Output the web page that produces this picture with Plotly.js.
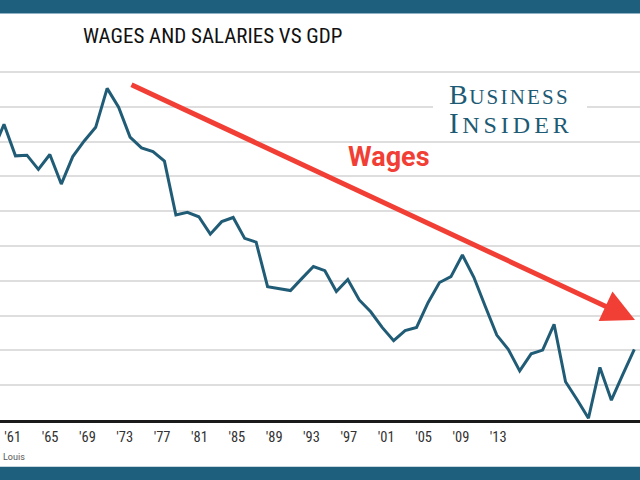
<!DOCTYPE html>
<html><head><meta charset="utf-8">
<script src="https://cdn.plot.ly/plotly-3.0.1.min.js"></script>
<style>html,body{margin:0;padding:0;background:#fff;} #chart{width:640px;height:480px;}</style>
</head><body><div id="chart"></div>
<script>
// Wages and salaries as share of GDP (%), annual
const years = [1959,1960,1961,1962,1963,1964,1965,1966,1967,1968,
  1969,1970,1971,1972,1973,1974,1975,1976,1977,1978,
  1979,1980,1981,1982,1983,1984,1985,1986,1987,1988,
  1989,1990,1991,1992,1993,1994,1995,1996,1997,1998,
  1999,2000,2001,2002,2003,2004,2005,2006,2007,2008,
  2009,2010,2011,2012,2013,2014,2015];
const wageShare = [49.70,50.50,49.59,49.61,49.20,49.63,48.78,49.57,50.02,50.41,
  51.53,50.99,50.13,49.82,49.71,49.44,47.89,47.97,47.84,47.34,
  47.70,47.82,47.22,47.11,45.83,45.78,45.72,46.07,46.41,46.29,
  45.69,46.04,45.45,45.11,44.66,44.28,44.57,44.66,45.37,45.95,
  46.12,46.74,46.10,45.26,44.44,44.03,43.41,43.90,44.01,44.75,
  43.10,42.59,42.05,43.51,42.57,43.31,44.03];
const tickYears = [1961,1965,1969,1973,1977,1981,1985,1989,1993,1997,2001,2005,2009,2013];
const tickLabels = ["'61","'65","'69","'73","'77","'81","'85","'89","'93","'97","'01","'05","'09","'13"];

const NARROW = "'Liberation Sans Narrow', 'Roboto Condensed', 'DejaVu Sans Condensed', Roboto, sans-serif";
const BLUE = '#1e5f7e';
const LINE = '#215c77';
const RED = '#f23f36';
const LOGO = '#1d5a74';

const traces = [
  {x: years, y: wageShare, type: 'scatter', mode: 'lines',
   line: {color: LINE, width: 3}, hoverinfo: 'skip', showlegend: false},
  {x: tickYears, y: tickYears.map(() => null), xaxis: 'x2', yaxis: 'y', type: 'scatter',
   mode: 'markers', marker: {opacity: 0}, hoverinfo: 'skip', showlegend: false}
];

const layout = {
  width: 640, height: 480,
  margin: {l: 0, r: 0, t: 60, b: 60},
  paper_bgcolor: '#ffffff', plot_bgcolor: '#ffffff',
  showlegend: false,
  title: {text: 'WAGES AND SALARIES VS GDP', x: 83/640, xanchor: 'left',
          y: 1 - 35.5/480, yanchor: 'middle',
          font: {family: NARROW, size: 21, color: '#111111'}},
  xaxis: {range: [1959.651, 2015.497], showgrid: false, zeroline: false,
          showticklabels: false, ticks: '', showline: true,
          linecolor: '#1a1a1a', linewidth: 2.5, fixedrange: true},
  xaxis2: {overlaying: 'x', side: 'bottom', anchor: 'y', range: [1959.64, 2028.18],
           tickmode: 'array', tickvals: tickYears, ticktext: tickLabels,
           showgrid: false, zeroline: false, showline: false, ticks: '',
           ticklabelstandoff: 6,
           tickfont: {family: NARROW, size: 14.5, color: '#333333'}, fixedrange: true},
  yaxis: {range: [42, 52.345], tick0: 42, dtick: 1, showgrid: true,
          gridcolor: '#dedede', gridwidth: 1.5, showticklabels: false,
          zeroline: false, ticks: '', fixedrange: true},
  shapes: [
    {type: 'rect', xref: 'paper', yref: 'paper', x0: 0, x1: 1, y0: (420-13)/360, y1: 1.2,
     fillcolor: BLUE, line: {width: 0}, layer: 'above'},
    {type: 'line', xref: 'paper', yref: 'paper', x0: 0, x1: 1, y0: (420-13.5)/360, y1: (420-13.5)/360,
     line: {color: '#8fb3c4', width: 1}, layer: 'above'},
    {type: 'rect', xref: 'paper', yref: 'paper', x0: 0, x1: 1, y0: -0.2, y1: (420-466.7)/360,
     fillcolor: BLUE, line: {width: 0}, layer: 'above'},
    {type: 'rect', xref: 'paper', yref: 'paper', x0: 433/640, x1: 587/640,
     y0: (420-136)/360, y1: (420-80)/360,
     fillcolor: '#ffffff', line: {width: 0}, layer: 'above'}
  ],
  annotations: [
    {text: '', xref: 'paper', yref: 'paper', x: 635/640, y: (420-320)/360,
     ax: -505, ay: -236, showarrow: true, arrowhead: 2, arrowsize: 1.3,
     arrowwidth: 5, arrowcolor: RED, standoff: 0},
    {text: '<b>Wages</b>', xref: 'paper', yref: 'paper', x: 389/640, y: (420-156.5)/360,
     xanchor: 'center', yanchor: 'middle', showarrow: false,
     font: {family: 'Roboto, sans-serif', size: 27, color: RED}},
    {text: '<span style="font-size:28px;letter-spacing:1.5px">B</span><span style="letter-spacing:2.2px">USINESS</span>',
     xref: 'paper', yref: 'paper', x: 509/640, y: (420-94)/360,
     xanchor: 'center', yanchor: 'middle', showarrow: false,
     font: {family: "'Liberation Serif', 'DejaVu Serif', serif", size: 21, color: LOGO}},
    {text: '<span style="font-size:29px;letter-spacing:3.5px">I</span><span style="letter-spacing:4px">NSIDER</span>',
     xref: 'paper', yref: 'paper', x: 511/640, y: (420-122.9)/360,
     xanchor: 'center', yanchor: 'middle', showarrow: false,
     font: {family: "'Liberation Serif', 'DejaVu Serif', serif", size: 24, color: LOGO}},
    {text: 'Louis', xref: 'paper', yref: 'paper', x: 1/640, y: (420-457)/360,
     xanchor: 'left', yanchor: 'middle', showarrow: false,
     font: {family: 'Roboto, sans-serif', size: 9, color: '#555555'}}
  ]
};

Plotly.newPlot('chart', traces, layout, {displayModeBar: false, responsive: false});
</script>
</body></html>
